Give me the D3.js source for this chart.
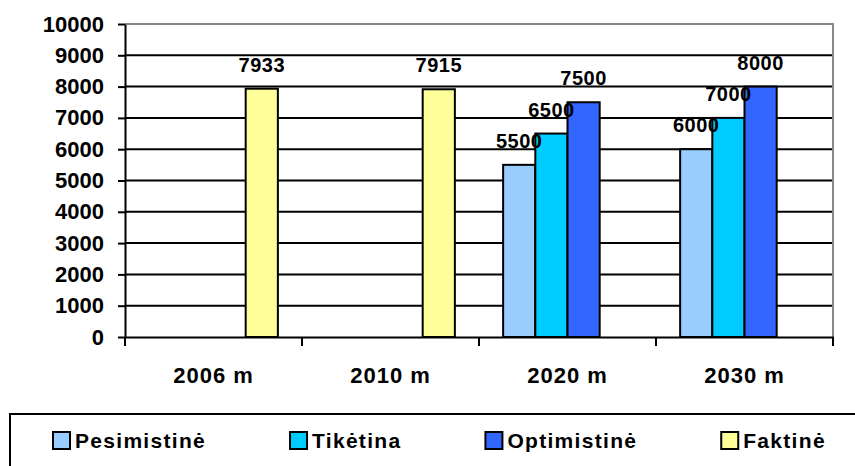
<!DOCTYPE html>
<html>
<head>
<meta charset="utf-8">
<script src="https://cdn.jsdelivr.net/npm/d3@7"></script>
<style>
  body { margin: 0; background: #fff; }
  svg { font-family: "Liberation Sans", Arial, sans-serif; font-weight: bold; }
</style>
</head>
<body>
<div id="chart"></div>
<script>
const years = ["2006 m", "2010 m", "2020 m", "2030 m"];
const series = ["Pesimistinė", "Tikėtina", "Optimistinė", "Faktinė"];
const colors = ["#99CCFF", "#00CCFF", "#3366FF", "#FFFF99"];
const pesimistine = [null, null, 5500, 6000];
const tiketina = [null, null, 6500, 7000];
const optimistine = [null, null, 7500, 8000];
const faktine = [7933, 7915, null, null];
const yTicks = [0, 1000, 2000, 3000, 4000, 5000, 6000, 7000, 8000, 9000, 10000];

const values = [pesimistine, tiketina, optimistine, faktine];

const W = 855, H = 466;
const margin = { top: 24, right: 22, bottom: 129, left: 125 },
    width = W - margin.left - margin.right,
    height = H - margin.top - margin.bottom;

const svg = d3.select("#chart")
    .append("svg")
    .attr("width", W)
    .attr("height", H);

const g = svg.append("g")
    .attr("transform", "translate(" + margin.left + "," + margin.top + ")");

const x0 = d3.scaleBand().domain(years).range([0, width]);
const x1 = d3.scaleBand().domain(series).range([0, x0.bandwidth()]).paddingOuter(0.75);
const y = d3.scaleLinear().domain([0, 10000]).range([height, 0]);

// gridlines
g.append("g")
    .selectAll("line")
    .data(yTicks.filter(d => d > 0 && d < 10000))
    .enter()
    .append("line")
    .attr("x1", 0)
    .attr("x2", width)
    .attr("y1", d => y(d))
    .attr("y2", d => y(d))
    .attr("stroke", "#000")
    .attr("stroke-width", 2);

// plot border, top and right (gray)
g.append("path")
    .attr("d", "M0," + y(10000) + "H" + width + "V" + height)
    .attr("fill", "none")
    .attr("stroke", "#888")
    .attr("stroke-width", 2);

// bars
const rows = [];
years.forEach((yr, i) => {
    series.forEach((s, j) => {
        if (values[j][i] != null) rows.push({ yr: yr, s: s, v: values[j][i], c: colors[j] });
    });
});

g.append("g")
    .selectAll("rect")
    .data(rows)
    .enter()
    .append("rect")
    .attr("x", d => x0(d.yr) + x1(d.s))
    .attr("y", d => y(d.v))
    .attr("width", x1.bandwidth())
    .attr("height", d => height - y(d.v))
    .attr("fill", d => d.c)
    .attr("stroke", "#000")
    .attr("stroke-width", 2);

// value labels
g.append("g")
    .selectAll("text")
    .data(rows)
    .enter()
    .append("text")
    .attr("x", d => x0(d.yr) + x1(d.s) + x1.bandwidth() / 2)
    .attr("y", d => y(d.v) - 17)
    .attr("text-anchor", "middle")
    .style("font-size", "20px")
    .style("letter-spacing", "0.5px")
    .text(d => d.v);

// y axis
const yAxis = g.append("g")
    .call(d3.axisLeft(y).tickValues(yTicks).tickFormat(d3.format("d"))
        .tickSize(7).tickSizeOuter(0).tickPadding(14));
yAxis.select(".domain").attr("stroke", "#000").attr("stroke-width", 2);
yAxis.selectAll(".tick line").attr("stroke-width", 2);
yAxis.selectAll("text")
    .attr("fill", "#000")
    .style("font-size", "22px")
    .style("font-family", "Liberation Sans, Arial, sans-serif")
    .style("font-weight", "bold");

// x axis
const xAxis = g.append("g")
    .attr("transform", "translate(0," + height + ")")
    .call(d3.axisBottom(x0).tickSize(0).tickPadding(30));
xAxis.select(".domain").attr("stroke", "#000").attr("stroke-width", 2);
xAxis.selectAll("text")
    .attr("fill", "#000")
    .style("font-size", "22px")
    .style("font-family", "Liberation Sans, Arial, sans-serif")
    .style("font-weight", "bold")
    .style("letter-spacing", "1px");

// category boundary ticks
xAxis.append("g")
    .selectAll("line")
    .data(years.map(d => x0(d)).concat([width]))
    .enter()
    .append("line")
    .attr("x1", d => d)
    .attr("x2", d => d)
    .attr("y1", 0)
    .attr("y2", 9)
    .attr("stroke", "#000")
    .attr("stroke-width", 2);

// legend
svg.append("rect")
    .attr("x", 10)
    .attr("y", 414)
    .attr("width", 855)
    .attr("height", 70)
    .attr("fill", "#fff")
    .attr("stroke", "#000")
    .attr("stroke-width", 2);

let lx = 53;
series.forEach((s, j) => {
    const item = svg.append("g").attr("transform", "translate(" + lx + ",432)");
    item.append("rect")
        .attr("width", 17)
        .attr("height", 17)
        .attr("fill", colors[j])
        .attr("stroke", "#000")
        .attr("stroke-width", 2);
    const t = item.append("text")
        .attr("x", 22)
        .attr("y", 16)
        .style("font-size", "21px")
        .style("letter-spacing", "1.3px")
        .text(s);
    lx += 22 + t.node().getComputedTextLength() + 84;
});
</script>
</body>
</html>
